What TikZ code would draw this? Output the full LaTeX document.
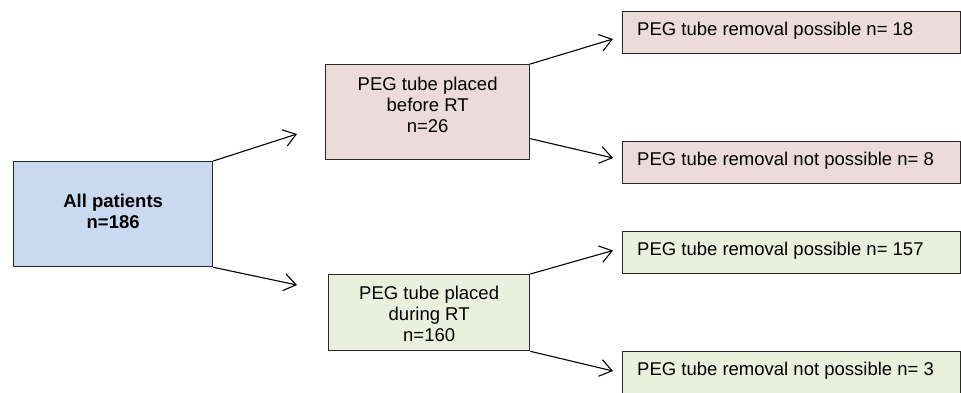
\documentclass[tikz,border=0pt]{standalone}
\usepackage{fontspec}
\setmainfont{Liberation Sans}
\usetikzlibrary{arrows.meta}
\definecolor{boxblue}{RGB}{201,217,239}
\definecolor{boxpink}{RGB}{235,219,219}
\definecolor{boxgreen}{RGB}{235,240,222}
\definecolor{edgecol}{RGB}{40,40,40}
\begin{document}
\begin{tikzpicture}[x=1bp,y=-1bp,
  box/.style={draw=edgecol,line width=1.3bp,inner sep=0pt,anchor=north west},
  midbox/.style={box,minimum width=202bp},
  rbox/.style={box,minimum width=338bp,minimum height=42bp},
  txt/.style={inner sep=0pt,align=center,font=\fontsize{18.5bp}{21bp}\selectfont},
  rtxt/.style={inner sep=0pt,anchor=base west,font=\fontsize{18.5bp}{21bp}\selectfont,xshift=15bp,yshift=-24.5bp},
  conn/.style={line width=1.1bp,-{Straight Barb[length=12bp,width=17bp,line width=1.1bp]}}]
\clip (0,0) rectangle (961,392);
% boxes
\node[box,fill=boxblue,minimum width=199bp,minimum height=105bp] (all) at (13,161) {};
\node[midbox,fill=boxpink,minimum width=204bp,minimum height=95bp] (before) at (325,64) {};
\node[midbox,fill=boxgreen,minimum width=201bp,minimum height=76bp] (during) at (328,274) {};
\node[rbox,fill=boxpink] (r1) at (622,10.5) {};
\node[rbox,fill=boxpink] (r2) at (622,140.5) {};
\node[rbox,fill=boxgreen] (r3) at (622,231) {};
\node[rbox,fill=boxgreen] (r4) at (622,351) {};
% texts
\node[txt,font=\fontsize{18.5bp}{21bp}\selectfont\bfseries,anchor=north,yshift=-32.5bp] (tall) at (all.north) {All patients\\n=186};
\node[txt,anchor=north,yshift=-12.5bp] (tbefore) at (before.north) {PEG tube placed\\before RT\\n=26};
\node[txt,anchor=north,yshift=-11.5bp] (tduring) at (during.north) {PEG tube placed\\during RT\\n=160};
\node[rtxt] (t1) at (r1.north west) {PEG tube removal possible n= 18};
\node[rtxt] (t2) at (r2.north west) {PEG tube removal not possible n= 8};
\node[rtxt] (t3) at (r3.north west) {PEG tube removal possible n= 157};
\node[rtxt] (t4) at (r4.north west) {PEG tube removal not possible n= 3};
% arrow ends
\coordinate (e1) at (297,134);
\coordinate (e2) at (297,285);
\coordinate (e3) at (613,39);
\coordinate (e4) at (613,158);
\coordinate (e5) at (613,250.5);
\coordinate (e6) at (613,371);
% connectors
\draw[conn] (all.north east) -- (e1);
\draw[conn] (all.south east) -- (e2);
\draw[conn] (before.north east) -- (e3);
\draw[conn] ([yshift=-26.5bp]before.east) -- (e4);
\draw[conn] (during.north east) -- (e5);
\draw[conn] (during.south east) -- (e6);
\end{tikzpicture}
\end{document}
